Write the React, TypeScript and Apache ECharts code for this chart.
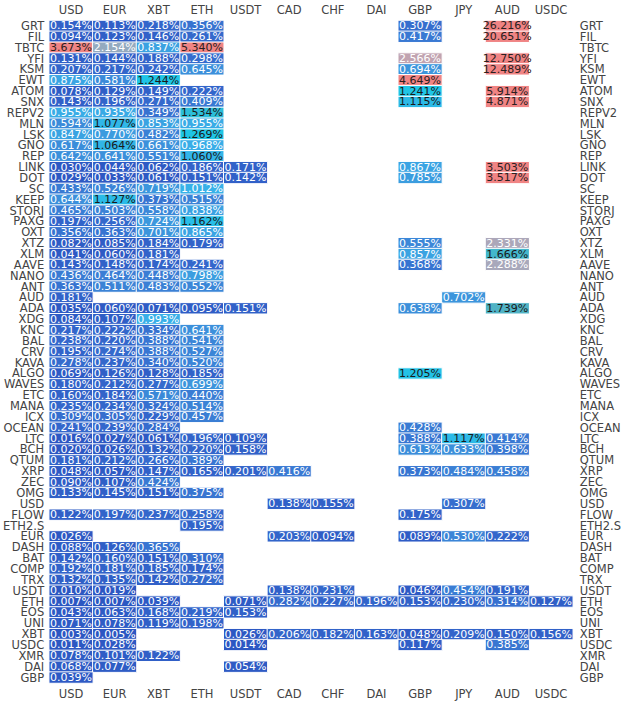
import React, { useEffect, useRef } from "react";
import * as echarts from "echarts";

const colLabels = ["USD", "EUR", "XBT", "ETH", "USDT", "CAD", "CHF", "DAI", "GBP", "JPY", "AUD", "USDC"];

const rowLabels = [
  "GRT", "FIL", "TBTC", "YFI", "KSM", "EWT", "ATOM", "SNX", "REPV2", "MLN", "LSK", "GNO", "REP",
  "LINK", "DOT", "SC", "KEEP", "STORJ", "PAXG", "OXT", "XTZ", "XLM", "AAVE", "NANO", "ANT", "AUD",
  "ADA", "XDG", "KNC", "BAL", "CRV", "KAVA", "ALGO", "WAVES", "ETC", "MANA", "ICX", "OCEAN", "LTC",
  "BCH", "QTUM", "XRP", "ZEC", "OMG", "USD", "FLOW", "ETH2.S", "EUR", "DASH", "BAT", "COMP", "TRX",
  "USDT", "ETH", "EOS", "UNI", "XBT", "USDC", "XMR", "DAI", "GBP",
];

const _ = null;
// spread (%) per row, columns in colLabels order
const spreads: (number | null)[][] = [
  [0.154, 0.113, 0.218, 0.356, _, _, _, _, 0.307, _, 26.216, _], // GRT
  [0.094, 0.123, 0.146, 0.261, _, _, _, _, 0.417, _, 20.651, _], // FIL
  [3.673, 2.154, 0.837, 5.34, _, _, _, _, _, _, _, _], // TBTC
  [0.131, 0.144, 0.188, 0.298, _, _, _, _, 2.566, _, 12.75, _], // YFI
  [0.207, 0.217, 0.242, 0.645, _, _, _, _, 0.694, _, 12.489, _], // KSM
  [0.875, 0.581, 1.244, _, _, _, _, _, 4.649, _, _, _], // EWT
  [0.078, 0.129, 0.149, 0.222, _, _, _, _, 1.241, _, 5.914, _], // ATOM
  [0.143, 0.196, 0.271, 0.409, _, _, _, _, 1.115, _, 4.871, _], // SNX
  [0.955, 0.935, 0.349, 1.534, _, _, _, _, _, _, _, _], // REPV2
  [0.594, 1.077, 0.853, 0.955, _, _, _, _, _, _, _, _], // MLN
  [0.847, 0.77, 0.482, 1.269, _, _, _, _, _, _, _, _], // LSK
  [0.617, 1.064, 0.661, 0.968, _, _, _, _, _, _, _, _], // GNO
  [0.642, 0.641, 0.551, 1.06, _, _, _, _, _, _, _, _], // REP
  [0.03, 0.044, 0.062, 0.186, 0.171, _, _, _, 0.867, _, 3.503, _], // LINK
  [0.029, 0.033, 0.061, 0.151, 0.142, _, _, _, 0.785, _, 3.517, _], // DOT
  [0.433, 0.526, 0.719, 1.012, _, _, _, _, _, _, _, _], // SC
  [0.644, 1.127, 0.373, 0.515, _, _, _, _, _, _, _, _], // KEEP
  [0.465, 0.503, 0.558, 0.838, _, _, _, _, _, _, _, _], // STORJ
  [0.197, 0.256, 0.724, 1.162, _, _, _, _, _, _, _, _], // PAXG
  [0.356, 0.363, 0.701, 0.865, _, _, _, _, _, _, _, _], // OXT
  [0.082, 0.085, 0.184, 0.179, _, _, _, _, 0.555, _, 2.331, _], // XTZ
  [0.041, 0.06, 0.181, _, _, _, _, _, 0.857, _, 1.666, _], // XLM
  [0.143, 0.148, 0.174, 0.241, _, _, _, _, 0.368, _, 2.288, _], // AAVE
  [0.436, 0.464, 0.448, 0.798, _, _, _, _, _, _, _, _], // NANO
  [0.363, 0.511, 0.483, 0.552, _, _, _, _, _, _, _, _], // ANT
  [0.181, _, _, _, _, _, _, _, _, 0.702, _, _], // AUD
  [0.035, 0.06, 0.071, 0.095, 0.151, _, _, _, 0.638, _, 1.739, _], // ADA
  [0.084, 0.107, 0.993, _, _, _, _, _, _, _, _, _], // XDG
  [0.217, 0.222, 0.334, 0.641, _, _, _, _, _, _, _, _], // KNC
  [0.238, 0.22, 0.388, 0.541, _, _, _, _, _, _, _, _], // BAL
  [0.195, 0.274, 0.388, 0.527, _, _, _, _, _, _, _, _], // CRV
  [0.278, 0.237, 0.34, 0.52, _, _, _, _, _, _, _, _], // KAVA
  [0.069, 0.126, 0.128, 0.185, _, _, _, _, 1.205, _, _, _], // ALGO
  [0.18, 0.212, 0.277, 0.699, _, _, _, _, _, _, _, _], // WAVES
  [0.16, 0.184, 0.571, 0.44, _, _, _, _, _, _, _, _], // ETC
  [0.235, 0.234, 0.324, 0.514, _, _, _, _, _, _, _, _], // MANA
  [0.309, 0.305, 0.229, 0.457, _, _, _, _, _, _, _, _], // ICX
  [0.241, 0.239, 0.284, _, _, _, _, _, 0.428, _, _, _], // OCEAN
  [0.016, 0.027, 0.061, 0.196, 0.109, _, _, _, 0.388, 1.117, 0.414, _], // LTC
  [0.02, 0.026, 0.132, 0.22, 0.158, _, _, _, 0.613, 0.633, 0.398, _], // BCH
  [0.181, 0.212, 0.266, 0.389, _, _, _, _, _, _, _, _], // QTUM
  [0.048, 0.057, 0.147, 0.165, 0.201, 0.416, _, _, 0.373, 0.484, 0.458, _], // XRP
  [0.09, 0.107, 0.424, _, _, _, _, _, _, _, _, _], // ZEC
  [0.133, 0.145, 0.151, 0.375, _, _, _, _, _, _, _, _], // OMG
  [_, _, _, _, _, 0.138, 0.155, _, _, 0.307, _, _], // USD
  [0.122, 0.197, 0.237, 0.258, _, _, _, _, 0.175, _, _, _], // FLOW
  [_, _, _, 0.195, _, _, _, _, _, _, _, _], // ETH2.S
  [0.026, _, _, _, _, 0.203, 0.094, _, 0.089, 0.53, 0.222, _], // EUR
  [0.088, 0.126, 0.365, _, _, _, _, _, _, _, _, _], // DASH
  [0.142, 0.16, 0.151, 0.31, _, _, _, _, _, _, _, _], // BAT
  [0.192, 0.181, 0.185, 0.174, _, _, _, _, _, _, _, _], // COMP
  [0.132, 0.135, 0.142, 0.272, _, _, _, _, _, _, _, _], // TRX
  [0.01, 0.019, _, _, _, 0.138, 0.231, _, 0.046, 0.454, 0.191, _], // USDT
  [0.007, 0.007, 0.039, _, 0.071, 0.282, 0.227, 0.196, 0.153, 0.23, 0.314, 0.127], // ETH
  [0.043, 0.063, 0.168, 0.219, 0.153, _, _, _, _, _, _, _], // EOS
  [0.071, 0.078, 0.119, 0.198, _, _, _, _, _, _, _, _], // UNI
  [0.003, 0.005, _, _, 0.026, 0.206, 0.182, 0.163, 0.048, 0.209, 0.15, 0.156], // XBT
  [0.011, 0.028, _, _, 0.014, _, _, _, 0.117, _, 0.385, _], // USDC
  [0.078, 0.101, 0.122, _, _, _, _, _, _, _, _, _], // XMR
  [0.068, 0.077, _, _, 0.054, _, _, _, _, _, _, _], // DAI
  [0.039, _, _, _, _, _, _, _, _, _, _, _], // GBP
];

const colorStops = [
  "#2c56c2", "#3468cc", "#3b82d6", "#3c9ade", "#38b0e8", "#1ec6e6", "#26c0dc", "#52b2c4",
  "#7aaec4", "#a4a8bc", "#bca6b4", "#d09ca4", "#e09494", "#ea8a8a", "#f08484",
];
const colorMax = 3.5;

function textColor(v: number): string {
  if (v >= 1.04 && v < 2.0) return "#1a1a1a";
  if (v >= 3.0) return "#2a2020";
  return "#ffffff";
}

export default function App() {
  const ref = useRef<HTMLDivElement>(null);
  useEffect(() => {
    if (!ref.current) return;
    const chart = echarts.init(ref.current, undefined, { renderer: "svg" });
    const data: any[] = [];
    spreads.forEach((row, r) => {
      row.forEach((v, c) => {
        if (v === null) return;
        data.push({
          value: [c, r, Math.min(v, colorMax), v],
          label: { color: textColor(v) },
        });
      });
    });
    const axisLabelStyle = { color: "#444", fontSize: 11.5, fontFamily: "DejaVu Sans", lineHeight: 10 };
    const catX = (pos: "top" | "bottom", margin: number) => ({
      type: "category" as const,
      data: colLabels,
      position: pos,
      axisLine: { show: false },
      axisTick: { show: false },
      splitLine: { show: false },
      axisLabel: { ...axisLabelStyle, margin, interval: 0 },
    });
    const catY = (pos: "left" | "right", margin: number) => ({
      type: "category" as const,
      data: rowLabels,
      position: pos,
      inverse: true,
      axisLine: { show: false },
      axisTick: { show: false },
      splitLine: { show: false },
      axisLabel: { ...axisLabelStyle, margin, interval: 0, align: pos === "left" ? ("right" as const) : ("left" as const) },
    });
    chart.setOption({
      animation: false,
      backgroundColor: "#ffffff",
      grid: { left: 48, top: 20.5, width: 528, height: 662.5 },
      xAxis: [catX("top", 6), catX("bottom", 6)],
      yAxis: [catY("left", 5), catY("right", 7)],
      visualMap: {
        show: false,
        type: "continuous",
        dimension: 2,
        min: 0,
        max: colorMax,
        inRange: { color: colorStops },
      },
      series: [
        {
          type: "heatmap",
          xAxisIndex: 0,
          yAxisIndex: 0,
          data,
          itemStyle: { borderColor: "#ffffff", borderWidth: 1 },
          label: {
            show: true,
            fontFamily: "DejaVu Sans",
            fontSize: 11,
            lineHeight: 9,
            formatter: (p: any) => p.value[3].toFixed(3) + "%",
          },
          emphasis: { disabled: true },
        },
      ],
    });
    return () => chart.dispose();
  }, []);
  return (
    <div
      ref={ref}
      style={{ position: "fixed", left: 0, top: 0, width: 624, height: 704, background: "#fff" }}
    />
  );
}
